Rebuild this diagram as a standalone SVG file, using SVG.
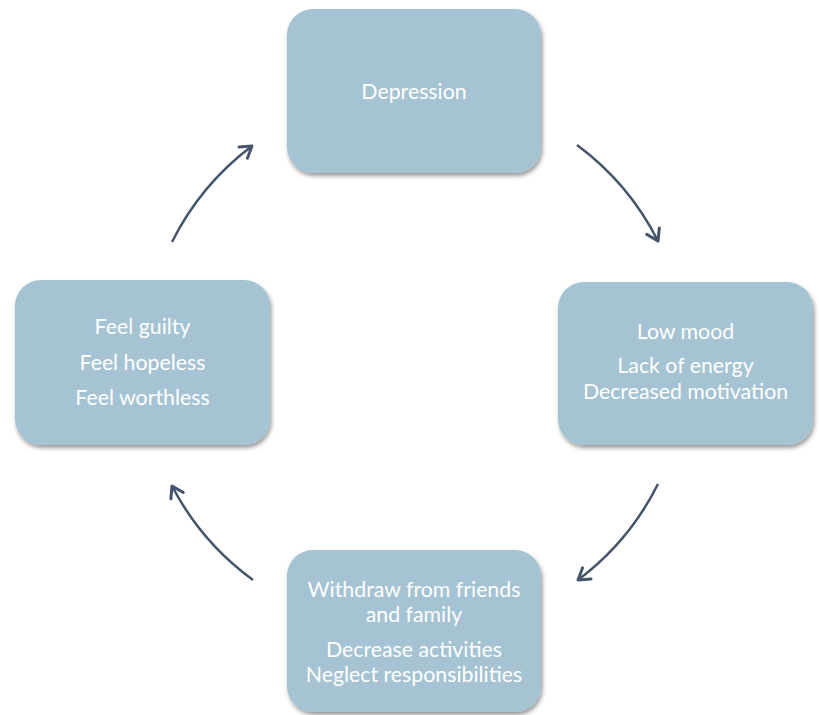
<svg xmlns="http://www.w3.org/2000/svg" width="819" height="715" viewBox="0 0 819 715">
  <style>
    .box { fill: #a5c3d3; filter: url(#shadow); }
    .lbl { fill: #ffffff; font-family: Lato, "Open Sans", "Liberation Sans", sans-serif; font-size: 21.3px; text-anchor: middle; }
    .conn { fill: none; stroke: #44546a; stroke-width: 2.5; marker-end: url(#arrow); }
  </style>
  <defs>
    <filter id="shadow" x="-10%" y="-10%" width="125%" height="130%">
      <feDropShadow dx="1.5" dy="3" stdDeviation="2" flood-color="#000000" flood-opacity="0.4"/>
    </filter>
    <marker id="arrow" markerUnits="userSpaceOnUse" viewBox="-14 -10 18 20" markerWidth="18" markerHeight="20" refX="0" refY="0" orient="auto">
      <path d="M-11,-7 L0,0 L-11,7" fill="none" stroke="#44546a" stroke-width="3" stroke-linecap="round" stroke-linejoin="round"/>
    </marker>
  </defs>
  <rect width="819" height="715" fill="#ffffff"/>

  <g id="connectors">
    <path class="conn" d="M577,145 A272,272 0 0 1 658,241"/>
    <path class="conn" d="M658,484 A272,272 0 0 1 578,580"/>
    <path class="conn" d="M253,580 A272,272 0 0 1 172,486"/>
    <path class="conn" d="M172,242 A272,272 0 0 1 252,146"/>
  </g>

  <g id="depression">
    <rect class="box" x="287" y="9" width="254" height="164" rx="26"/>
    <text class="lbl" x="414" y="99">Depression</text>
  </g>

  <g id="mood">
    <rect class="box" x="558" y="282" width="255" height="163" rx="26"/>
    <text class="lbl" x="685.5" y="339">Low mood</text>
    <text class="lbl" x="685.5" y="373">Lack of energy</text>
    <text class="lbl" x="685.5" y="399">Decreased motivation</text>
  </g>

  <g id="withdraw">
    <rect class="box" x="287" y="550" width="254" height="162" rx="26"/>
    <text class="lbl" x="414" y="597">Withdraw from friends</text>
    <text class="lbl" x="414" y="622">and family</text>
    <text class="lbl" x="414" y="657">Decrease activities</text>
    <text class="lbl" x="414" y="682">Neglect responsibilities</text>
  </g>

  <g id="feelings">
    <rect class="box" x="15" y="280" width="255" height="165" rx="26"/>
    <text class="lbl" x="142.5" y="334">Feel guilty</text>
    <text class="lbl" x="142.5" y="370">Feel hopeless</text>
    <text class="lbl" x="142.5" y="405">Feel worthless</text>
  </g>
</svg>
